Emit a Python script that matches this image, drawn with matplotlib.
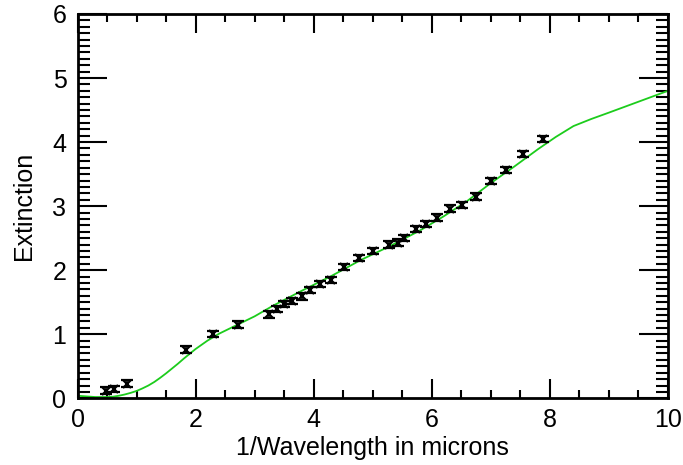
import numpy as np
import matplotlib
matplotlib.use("Agg")
import matplotlib.pyplot as plt
from matplotlib.ticker import MultipleLocator

plt.rcParams['font.family'] = ['Liberation Sans', 'DejaVu Sans']

# measured extinction points
wave_inv = [0.48, 0.62, 0.83, 1.84, 2.29, 2.71, 3.25, 3.37, 3.49, 3.63,
            3.80, 3.94, 4.11, 4.29, 4.52, 4.76, 5.01, 5.28, 5.42, 5.53,
            5.73, 5.91, 6.09, 6.30, 6.51, 6.75, 7.01, 7.26, 7.55, 7.88]
ext = [0.12, 0.15, 0.23, 0.76, 1.00, 1.15, 1.31, 1.39, 1.47, 1.52,
       1.59, 1.69, 1.78, 1.85, 2.05, 2.19, 2.30, 2.40, 2.43, 2.50,
       2.64, 2.72, 2.82, 2.96, 3.02, 3.15, 3.39, 3.56, 3.81, 4.05]
ext_err = [0.05] * len(ext)

# model curve
model_x = [0, 0.3, 0.5, 0.6, 0.7, 0.8, 0.9, 1.0, 1.1, 1.2, 1.3, 1.4, 1.5,
           1.6, 1.7, 1.8, 2.0, 2.2, 2.4, 2.6, 2.8, 3.0, 3.3, 3.8, 4.3,
           4.8, 5.3, 5.8, 6.2, 6.6, 7.0, 7.4, 7.8, 8.1, 8.4, 8.7, 9.0,
           9.5, 10.0]
model_y = [0.04, 0.02, 0.02, 0.025, 0.04, 0.06, 0.085, 0.115, 0.155, 0.20,
           0.255, 0.32, 0.39, 0.465, 0.54, 0.62, 0.77, 0.90, 1.01, 1.10,
           1.19, 1.28, 1.44, 1.68, 1.91, 2.16, 2.38, 2.62, 2.84, 3.08,
           3.36, 3.62, 3.89, 4.08, 4.25, 4.36, 4.46, 4.63, 4.80]

fig = plt.figure(figsize=(6.83, 4.65), dpi=100)
ax = fig.add_axes([0.1135, 0.1434, 0.978 - 0.1135, 0.970 - 0.1434])

ax.plot(model_x, model_y, color='#1ccc1c', lw=1.3, zorder=2)
ax.errorbar(wave_inv, ext, yerr=ext_err, fmt='x', color='black', ms=6,
            mew=1.6, elinewidth=1.2, capsize=4.5, capthick=1.6, zorder=3)

ax.set_xlim(0, 10)
ax.set_ylim(0, 6)
ax.xaxis.set_major_locator(MultipleLocator(2))
ax.xaxis.set_minor_locator(MultipleLocator(0.5))
ax.yaxis.set_major_locator(MultipleLocator(1))
ax.yaxis.set_minor_locator(MultipleLocator(0.1))

ax.tick_params(axis='both', which='both', direction='in', top=True,
               right=True, width=1.5, labelsize=18, colors='black')
ax.tick_params(axis='x', which='major', length=14, pad=7)
ax.tick_params(axis='x', which='minor', length=6)
ax.tick_params(axis='y', which='major', length=21, pad=8)
ax.tick_params(axis='y', which='minor', length=8.5)
for s in ax.spines.values():
    s.set_linewidth(2)

ax.set_xlabel('1/Wavelength in microns', fontsize=18, labelpad=3)
ax.set_ylabel('Extinction', fontsize=18, labelpad=12)

fig.savefig('out.png', dpi=100)
